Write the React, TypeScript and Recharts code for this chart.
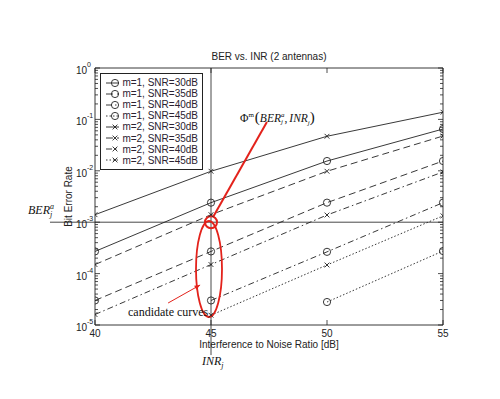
import React from 'react'
import {
	LineChart,
	Line,
	XAxis,
	YAxis,
	Legend,
	ReferenceLine,
	ReferenceDot,
	ReferenceArea,
} from 'recharts'

// INR values on the x axis [dB]
const inr = [40, 45, 50, 55]

// BER curves (null = below the axis)
const m1Snr30 = [2.7e-4, 2.4e-3, 1.55e-2, 6.5e-2]
const m1Snr35 = [3.0e-5, 2.7e-4, 2.4e-3, 1.55e-2]
const m1Snr40 = [null, 3.0e-5, 2.65e-4, 2.4e-3]
const m1Snr45 = [null, null, 2.8e-5, 2.75e-4]
const m2Snr30 = [1.4e-3, 9.8e-3, 4.7e-2, 1.38e-1]
const m2Snr35 = [1.5e-4, 1.4e-3, 9.8e-3, 4.75e-2]
const m2Snr40 = [1.6e-5, 1.5e-4, 1.38e-3, 9.5e-3]
const m2Snr45 = [null, 1.55e-5, 1.47e-4, 1.33e-3]

const seriesNames = [
	'm=1, SNR=30dB',
	'm=1, SNR=35dB',
	'm=1, SNR=40dB',
	'm=1, SNR=45dB',
	'm=2, SNR=30dB',
	'm=2, SNR=35dB',
	'm=2, SNR=40dB',
	'm=2, SNR=45dB',
]
const seriesValues = [m1Snr30, m1Snr35, m1Snr40, m1Snr45, m2Snr30, m2Snr35, m2Snr40, m2Snr45]

const xTicks = [40, 45, 50, 55]
const yExponents = [-5, -4, -3, -2, -1, 0]

// annotation anchors
const berA = 1e-3
const inrJ = 45

const W = 500
const H = 399
const M = { top: 68, right: 57, bottom: 44, left: 55 }
const Y_AXIS_W = 40
const X_AXIS_H = 30
const PL = M.left + Y_AXIS_W
const PR = W - M.right
const PT = M.top
const PB = H - M.bottom - X_AXIS_H

const INK = '#222'
const RED = '#e3221b'
const SANS = '"Liberation Sans", Arial, Helvetica, sans-serif'
const SERIF = '"Liberation Serif", "Times New Roman", serif'

const dashes = ['', '7 4', '6 3 1.5 3', '1.5 2']

const series = seriesNames.map((name, i) => ({
	key: 's' + i,
	name,
	marker: i < 4 ? 'circle' : 'cross',
	dash: dashes[i % 4],
}))

const rows = inr.map((x, j) => {
	const r: any = { inr: x }
	series.forEach((s, i) => (r[s.key] = seriesValues[i][j]))
	return r
})

// log axis ticks: majors plus 2..9 minors
const yTicks: number[] = []
yExponents.forEach((e) => {
	if (e === 0) {
		yTicks.push(1)
		return
	}
	for (let k = 1; k <= 9; k++) yTicks.push(k * Math.pow(10, e))
})

const Marker = ({ kind, cx, cy }: any) => {
	if (cx == null || cy == null || isNaN(cy)) return null
	if (kind === 'circle')
		return <circle cx={cx} cy={cy} r={3.6} fill='none' stroke={INK} strokeWidth={0.9} />
	const d = 2.4
	return (
		<path
			d={`M${cx - d},${cy - d}L${cx + d},${cy + d}M${cx - d},${cy + d}L${cx + d},${cy - d}`}
			stroke={INK}
			strokeWidth={0.9}
		/>
	)
}

const YTick = (props: any) => {
	const { payload } = props
	const y = payload.coordinate
	const v = payload.value
	const e = Math.round(Math.log10(v))
	const major = Math.abs(v - Math.pow(10, e)) < 1e-12
	const len = major ? 5 : 3
	return (
		<g>
			<line x1={PL} x2={PL + len} y1={y} y2={y} stroke={INK} strokeWidth={0.8} />
			<line x1={PR} x2={PR - len} y1={y} y2={y} stroke={INK} strokeWidth={0.8} />
			{major && (
				<text x={PL - 8} y={y + 6} textAnchor='end' fontSize={10} fill={INK} fontFamily={SANS}>
					10
				</text>
			)}
			{major && (
				<text x={PL - 8} y={y - 1} textAnchor='start' fontSize={7} fill={INK} fontFamily={SANS}>
					{e}
				</text>
			)}
		</g>
	)
}

const XTick = (props: any) => {
	const { payload } = props
	const x = payload.coordinate
	return (
		<g>
			<line x1={x} x2={x} y1={PB} y2={PB - 5} stroke={INK} strokeWidth={0.8} />
			<line x1={x} x2={x} y1={PT} y2={PT + 5} stroke={INK} strokeWidth={0.8} />
			<text x={x} y={PB + 12} textAnchor='middle' fontSize={10} fill={INK} fontFamily={SANS}>
				{payload.value}
			</text>
		</g>
	)
}

const LegendBox = () => (
	<div
		style={{
			border: `1px solid ${INK}`,
			background: '#fff',
			padding: '3px 4px 3px 4px',
			fontFamily: SANS,
			fontSize: 10,
			color: '#2a2230',
			width: 93,
		}}>
		{series.map((s) => (
			<div key={s.key} style={{ display: 'flex', alignItems: 'center', height: 11.1 }}>
				<svg width={20} height={10} style={{ marginRight: 3 }}>
					<line x1={1} x2={19} y1={5} y2={5} stroke={INK} strokeWidth={0.9} strokeDasharray={s.dash || undefined} />
					<Marker kind={s.marker} cx={10} cy={5} />
				</svg>
				<span style={{ whiteSpace: 'nowrap' }}>{s.name}</span>
			</div>
		))}
	</div>
)

const Ellipse = ({ cx, cy }: any) => (
	<ellipse cx={cx - 2} cy={cy} rx={13} ry={48} fill='none' stroke={RED} strokeWidth={1.8} />
)

const CandidateArrow = ({ cx, cy }: any) => {
	const sx = cx - 32
	const sy = cy + 18
	const ang = Math.atan2(cy - sy, cx - sx)
	const h = 6
	const a1 = ang + Math.PI - 0.4
	const a2 = ang + Math.PI + 0.4
	return (
		<g>
			<line x1={sx} y1={sy} x2={cx} y2={cy} stroke={RED} strokeWidth={1} />
			<path
				d={`M${cx},${cy}L${cx + h * Math.cos(a1)},${cy + h * Math.sin(a1)}L${cx + h * Math.cos(a2)},${cy + h * Math.sin(a2)}Z`}
				fill={RED}
			/>
		</g>
	)
}

const App = () => {
	return (
		<div style={{ position: 'absolute', left: 0, top: 0, width: W, height: H, background: '#fff' }}>
			<div
				style={{
					position: 'absolute',
					left: PL,
					width: PR - PL,
					top: 51,
					textAlign: 'center',
					fontFamily: SANS,
					fontSize: 10,
					color: INK,
				}}>
				BER vs. INR (2 antennas)
			</div>
			<LineChart width={W} height={H} data={rows} margin={M}>
				<ReferenceArea x1={40} x2={55} y1={1e-5} y2={1} fill='none' stroke={INK} strokeWidth={0.9} ifOverflow='visible' />
				<XAxis
					dataKey='inr'
					type='number'
					domain={[40, 55]}
					ticks={xTicks}
					height={X_AXIS_H}
					axisLine={false}
					tickLine={false}
					tick={<XTick />}
					allowDataOverflow
					label={{
						value: 'Interference to Noise Ratio [dB]',
						position: 'insideBottom',
						offset: 7,
						fontSize: 10,
						fill: INK,
						fontFamily: SANS,
					}}
				/>
				<YAxis
					scale='log'
					type='number'
					domain={[1e-5, 1]}
					ticks={yTicks}
					interval={0}
					width={Y_AXIS_W}
					axisLine={false}
					tickLine={false}
					tick={<YTick />}
					allowDataOverflow
					label={{
						value: 'Bit Error Rate',
						angle: -90,
						position: 'insideLeft',
						offset: 13,
						fontSize: 10,
						fill: INK,
						fontFamily: SANS,
						style: { textAnchor: 'middle' },
					}}
				/>
				<ReferenceLine
					segment={[
						{ x: 38.06, y: berA },
						{ x: 55, y: berA },
					]}
					stroke='#333'
					strokeWidth={0.9}
					ifOverflow='visible'
				/>
				<ReferenceLine
					segment={[
						{ x: inrJ, y: 1 },
						{ x: inrJ, y: 2.6e-6 },
					]}
					stroke='#333'
					strokeWidth={0.9}
					ifOverflow='visible'
				/>
				{series.map((s) => (
					<Line
						key={s.key}
						dataKey={s.key}
						name={s.name}
						stroke={INK}
						strokeWidth={0.9}
						strokeDasharray={s.dash || undefined}
						dot={(p: any) => <Marker key={s.key + p.index} kind={s.marker} cx={p.cx} cy={p.cy} />}
						activeDot={false}
						isAnimationActive={false}
					/>
				))}
				<ReferenceLine
					segment={[
						{ x: 47.41, y: 0.089 },
						{ x: 45.09, y: 1.26e-3 },
					]}
					stroke={RED}
					strokeWidth={2}
					ifOverflow='visible'
				/>
				<ReferenceDot x={inrJ} y={berA} r={6} fill='none' stroke={RED} strokeWidth={2} ifOverflow='visible' />
				<ReferenceDot x={inrJ} y={1.23e-4} shape={<Ellipse />} ifOverflow='visible' />
				<ReferenceDot x={44.53} y={6e-5} shape={<CandidateArrow />} ifOverflow='visible' />
				<Legend
					layout='vertical'
					align='center'
					verticalAlign='middle'
					wrapperStyle={{ left: PL + 5, top: PT + 5, width: 'auto' }}
					content={<LegendBox />}
				/>
			</LineChart>
			<div style={{ position: 'absolute', left: 240, top: 109, fontFamily: SERIF, fontSize: 11.5, color: '#111', whiteSpace: 'nowrap' }}>
				Φ<sup style={{ fontSize: 7 }}>m</sup>
				<span style={{ fontSize: 15, marginLeft: 1 }}>(</span>
				<i>BER</i>
				<span style={{ display: 'inline-block', verticalAlign: 'middle', fontSize: 7, lineHeight: '7px', fontStyle: 'italic' }}>
					a<br />j
				</span>
				,<i style={{ marginLeft: 2 }}>INR</i>
				<sub style={{ fontSize: 7, fontStyle: 'italic' }}>j</sub>
				<span style={{ fontSize: 15 }}>)</span>
			</div>
			<div style={{ position: 'absolute', left: 28, top: 203, fontFamily: SERIF, fontSize: 12, color: '#111', whiteSpace: 'nowrap' }}>
				<i>BER</i>
				<span style={{ display: 'inline-block', verticalAlign: 'middle', fontSize: 8, lineHeight: '8px', fontStyle: 'italic' }}>
					a<br />j
				</span>
			</div>
			<div style={{ position: 'absolute', left: 202, top: 354, fontFamily: SERIF, fontSize: 12, color: '#111', whiteSpace: 'nowrap' }}>
				<i>INR</i>
				<sub style={{ fontSize: 8, fontStyle: 'italic' }}>j</sub>
			</div>
			<div style={{ position: 'absolute', left: 128, top: 305, fontFamily: SERIF, fontSize: 12, color: '#111', whiteSpace: 'nowrap' }}>
				candidate curves
			</div>
		</div>
	)
}

export default App
